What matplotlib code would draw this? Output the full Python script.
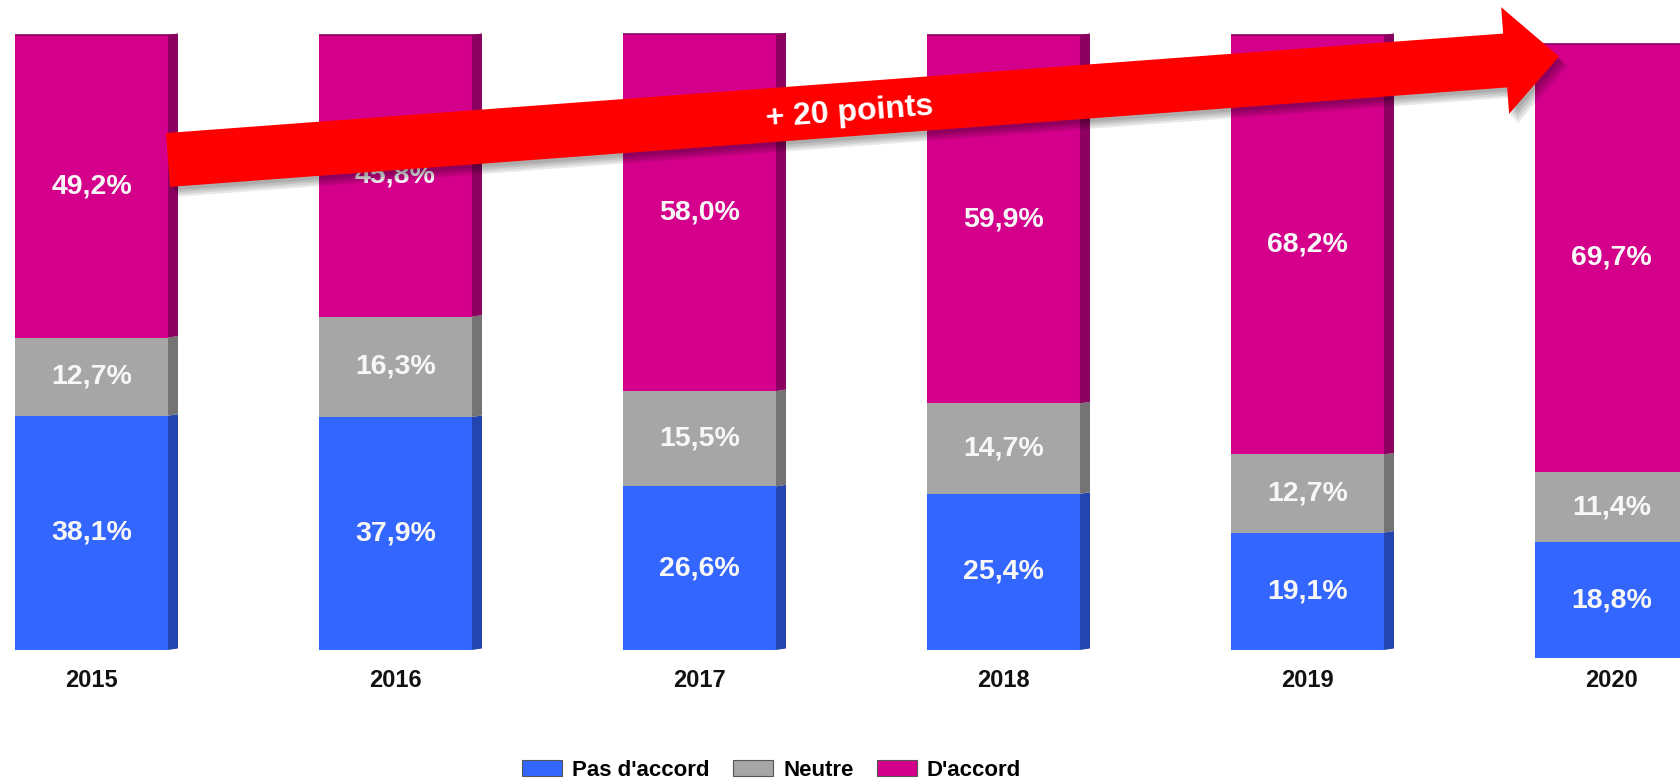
import numpy as np
import matplotlib
matplotlib.use("Agg")
import matplotlib.pyplot as plt
from matplotlib.patches import Polygon, Patch, FancyArrow
import matplotlib.patheffects as pe

plt.rcParams['font.family'] = ['Liberation Sans', 'DejaVu Sans']

# --- Daten ---
years = ["2015", "2016", "2017", "2018", "2019", "2020"]
pas_daccord = [38.1, 37.9, 26.6, 25.4, 19.1, 18.8]
neutre = [12.7, 16.3, 15.5, 14.7, 12.7, 11.4]
daccord = [49.2, 45.8, 58.0, 59.9, 68.2, 69.7]
series_names = ["Pas d'accord", "Neutre", "D'accord"]
arrow_label = "+ 20 points"

# --- Styles ---
front_colors = ["#3366FF", "#A6A6A6", "#D4008C"]
side_colors = ["#2444B0", "#747474", "#8C0060"]
bar_width = 0.503
depth = 0.033      # Tiefe der 3D-Seitenflaeche
rise = 0.25        # leichte Perspektive der Seitenflaeche

# Pixelbezogene Achsengrenzen (Balkenabstand 304 px, 6.15 px pro Prozent)
px_x, px_y = 304.0, 6.15
W, H = 1681, 782
x0_px, y0_px = 91.5, 650.0

fig = plt.figure(figsize=(W / 100, H / 100), dpi=100)
ax = fig.add_axes([0, 0, 1, 1])
ax.set_xlim(-x0_px / px_x, (W - x0_px) / px_x)
ax.set_ylim((y0_px - H) / px_y, y0_px / px_y)
ax.axis('off')

x = np.arange(len(years))
# der letzte Balken sitzt im Original etwas tiefer
base = np.zeros(len(years))
base[-1] = -1.3

bottoms = base.copy()
for vals, fc, sc in zip([pas_daccord, neutre, daccord], front_colors, side_colors):
    vals = np.array(vals)
    ax.bar(x, vals, bar_width, bottom=bottoms, color=fc, linewidth=0, zorder=2)
    for xi, b, v in zip(x, bottoms, vals):
        r = xi + bar_width / 2
        side = Polygon([(r, b), (r + depth, b + rise), (r + depth, b + v + rise), (r, b + v)],
                       closed=True, facecolor=sc, edgecolor='none', zorder=2)
        ax.add_patch(side)
        ax.text(xi, b + v / 2, f"{v:.1f}".replace(".", ",") + "%", ha='center', va='center',
                color='#F7F7F7', fontsize=20.5, fontweight='bold', zorder=3)
    bottoms = bottoms + vals

# dunkle Oberkante
ax.hlines(bottoms, x - bar_width / 2, x + bar_width / 2 + depth, colors='#8C0060', lw=1.2, zorder=3)

# Jahreszahlen
for xi, yr in zip(x, years):
    ax.text(xi, -4.9, yr, ha='center', va='center', fontsize=17, fontweight='bold', color='#111111')

# Legende
handles = [Patch(facecolor=c, edgecolor='#555555', lw=0.8) for c in front_colors]
fig.legend(handles, series_names, loc='center', bbox_to_anchor=(0.459, 0.015), ncol=3,
           frameon=False, prop={'weight': 'bold', 'size': 16}, handlelength=1.8,
           handleheight=0.72, handletextpad=0.45, columnspacing=1.05)

# Pfeil "+ 20 points" (Overlay in Pixelkoordinaten)
ov = fig.add_axes([0, 0, 1, 1])
ov.set_xlim(0, W)
ov.set_ylim(H, 0)
ov.axis('off')
arrow = FancyArrow(168, 160, 1391, -103.5, width=54, head_width=107, head_length=54,
                   length_includes_head=True, facecolor='#FF0000', edgecolor='none', zorder=5)
# weicher Schatten aus mehreren Lagen
shadow = [pe.SimplePatchShadow(offset=(d, -d - 1), shadow_rgbFace='#000000', alpha=0.09)
          for d in (6, 4.5, 3, 1.5)]
arrow.set_path_effects(shadow + [pe.Normal()])
ov.add_patch(arrow)
ov.text(850, 113, arrow_label, rotation=4.25, rotation_mode='anchor', ha='center', va='center',
        color='white', fontsize=23, fontweight='bold', zorder=6)

fig.savefig("out.png", dpi=100)
